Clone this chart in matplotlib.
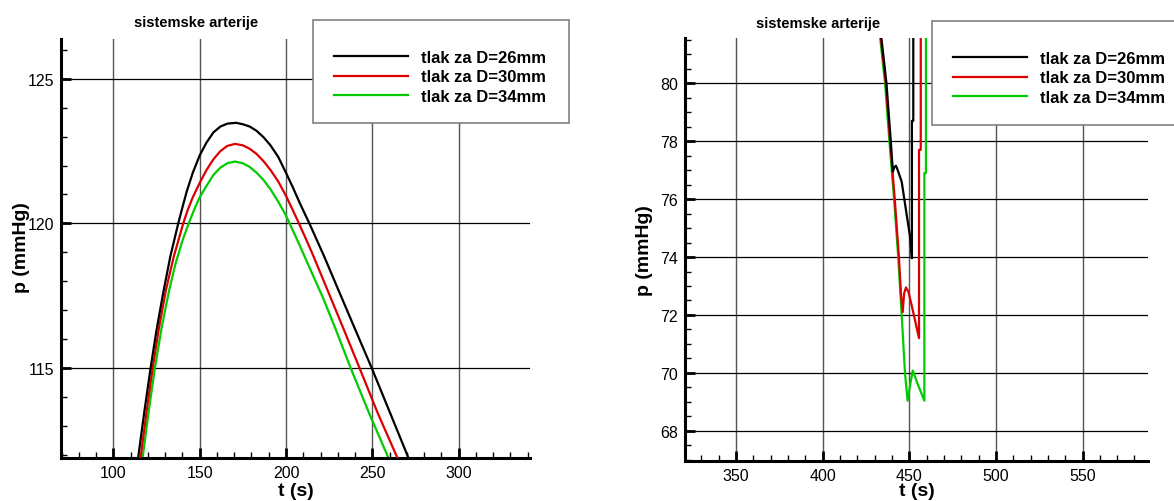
import matplotlib.pyplot as plt
from matplotlib.ticker import MultipleLocator
from matplotlib.patches import Rectangle

plt.rcParams['font.family'] = ['Liberation Sans', 'DejaVu Sans']

labels = ['tlak za D=26mm', 'tlak za D=30mm', 'tlak za D=34mm']
colors = ['black', '#dd0000', '#00cc00']
title = 'sistemske arterije'

# left panel (peak of the pressure curve)
t26_l = [114.4, 118.0, 121.6, 125.0, 128.9, 133.0, 137.6, 140.0, 142.5, 146.0, 150.0,
         154.0, 158.0, 162.0, 166.0, 171.0, 175.0, 179.0, 183.0, 187.0, 191.0, 195.5,
         200.0, 204.0, 208.0, 213.9, 222.0, 230.3, 240.0, 249.6, 260.0, 270.8]
p26_l = [111.9, 113.5, 115.0, 116.3, 117.6, 118.85, 120.0, 120.55, 121.1, 121.75, 122.35,
         122.8, 123.15, 123.35, 123.45, 123.48, 123.43, 123.35, 123.2, 122.98, 122.7, 122.3,
         121.75, 121.24, 120.7, 119.95, 118.87, 117.7, 116.34, 115.0, 113.48, 111.9]
t30_l = [115.8, 119.3, 122.8, 126.5, 130.5, 135.0, 140.5, 143.0, 146.0, 150.0, 154.0,
         158.0, 162.0, 166.0, 170.4, 175.0, 179.0, 183.0, 187.0, 191.0, 195.5, 200.0,
         204.0, 207.1, 212.0, 216.0, 226.4, 234.0, 242.2, 253.0, 264.4]
p30_l = [111.9, 113.5, 115.0, 116.4, 117.7, 118.85, 120.0, 120.45, 120.9, 121.4, 121.85,
         122.22, 122.5, 122.68, 122.75, 122.7, 122.58, 122.4, 122.15, 121.85, 121.45, 120.95,
         120.45, 120.05, 119.4, 118.85, 117.35, 116.25, 115.05, 113.45, 111.9]
t34_l = [117.0, 120.5, 124.1, 128.0, 132.4, 136.0, 140.0, 144.0, 147.0, 150.0, 154.0,
         158.0, 162.0, 166.0, 170.4, 175.0, 179.0, 183.0, 187.0, 191.0, 195.5, 200.0,
         204.0, 208.0, 211.0, 216.0, 221.6, 229.0, 237.4, 248.0, 259.2]
p34_l = [111.9, 113.5, 115.0, 116.4, 117.7, 118.6, 119.4, 120.05, 120.5, 120.9, 121.3,
         121.68, 121.93, 122.08, 122.14, 122.08, 121.95, 121.75, 121.5, 121.18, 120.75, 120.27,
         119.75, 119.23, 118.82, 118.15, 117.4, 116.3, 115.0, 113.45, 111.9]

# right panel (end of the cycle)
t26_r = [433.8, 436.8, 439.3, 440.5, 441.3, 442.3, 443.3, 445.6, 448.5, 450.3, 451.5,
         451.5, 452.3, 452.3]
p26_r = [81.6, 80.0, 78.0, 76.95, 77.1, 77.15, 77.0, 76.6, 75.45, 74.75, 73.96,
         78.7, 78.7, 83.0]
t30_r = [433.5, 436.4, 438.9, 441.6, 444.0, 445.2, 446.2, 447.0, 448.1, 449.5, 451.4,
         455.6, 455.6, 456.6, 456.6]
p30_r = [81.6, 80.0, 78.0, 76.0, 74.0, 72.7, 72.1, 72.75, 72.95, 72.8, 72.32,
         71.2, 77.7, 77.7, 83.0]
t34_r = [433.1, 436.0, 438.5, 441.2, 443.6, 445.6, 447.5, 449.0, 450.5, 452.0, 455.2,
         458.7, 458.7, 459.6, 459.6]
p34_r = [81.6, 80.0, 78.0, 76.0, 74.0, 72.0, 70.0, 69.04, 69.6, 70.08, 69.56,
         69.04, 76.9, 76.9, 83.0]

W, H = 1174, 502
fig = plt.figure(figsize=(W / 100, H / 100), dpi=100)
ax1 = fig.add_axes([61 / W, 1 - 459 / H, 469 / W, 419 / H])
ax2 = fig.add_axes([685 / W, 1 - 461.7 / H, 463 / W, 422.4 / H])


def style(ax, xmaj, ymaj, ymin):
    for s in ['top', 'right']:
        ax.spines[s].set_visible(False)
    for s in ['left', 'bottom']:
        ax.spines[s].set_linewidth(2.2)
    ax.xaxis.set_major_locator(MultipleLocator(xmaj))
    ax.xaxis.set_minor_locator(MultipleLocator(10))
    ax.yaxis.set_major_locator(MultipleLocator(ymaj))
    ax.yaxis.set_minor_locator(MultipleLocator(ymin))
    ax.tick_params(which='major', direction='in', length=7, width=2,
                   labelsize=11.5, pad=5)
    ax.tick_params(which='minor', direction='in', length=4, width=1)
    ax.grid(True, which='major', axis='y', color='black', lw=0.9)
    ax.grid(True, which='major', axis='x', color='#555555', lw=1.0)
    ax.set_axisbelow(True)
    ax.set_xlabel('t (s)', fontsize=14, fontweight='bold')
    ax.set_ylabel('p (mmHg)', fontsize=14, fontweight='bold')


def draw(ax, series):
    lines = []
    for (t, p), c in zip(series, colors):
        ln, = ax.plot(t, p, color=c, lw=1.6)
        lines.append(ln)
    # black on top
    for z, ln in enumerate(lines[::-1]):
        ln.set_zorder(2 + z)
    return lines


h1 = draw(ax1, [(t26_l, p26_l), (t30_l, p30_l), (t34_l, p34_l)])
ax1.set_xlim(69.7, 341.3)
ax1.set_ylim(111.88, 126.38)
style(ax1, 50, 5, 1)
ax1.xaxis.set_label_coords(0.501, -0.057)
ax1.yaxis.set_label_coords(-0.067, 0.504)

h2 = draw(ax2, [(t26_r, p26_r), (t30_r, p30_r), (t34_r, p34_r)])
ax2.set_xlim(320.5, 587.8)
ax2.set_ylim(66.97, 81.55)
style(ax2, 50, 2, 0.5)
ax2.xaxis.set_label_coords(0.501, -0.05)
ax2.yaxis.set_label_coords(-0.069, 0.5)

fig.text(196 / W, 1 - 23 / H, title, ha='center', va='center', fontsize=10.5, fontweight='bold')
fig.text(818 / W, 1 - 24 / H, title, ha='center', va='center', fontsize=10.5, fontweight='bold')

# legend boxes (partly outside the axes, as in the original)
for (x0, x1, y0, y1), hs, lx, ly in [((312.5, 569, 20.7, 124), h1, 334, 51),
                                      ((931.5, 1180, 21.7, 125.7), h2, 953, 52)]:
    fig.add_artist(Rectangle((x0 / W, 1 - y1 / H), (x1 - x0) / W, (y1 - y0) / H,
                             transform=fig.transFigure, facecolor='white',
                             edgecolor='#808080', lw=1.2, zorder=3))
    fig.legend(hs, labels, loc='upper left', bbox_to_anchor=(lx / W, 1 - ly / H),
               frameon=False, prop={'weight': 'bold', 'size': 12},
               handlelength=4.45, handletextpad=0.75, labelspacing=0.26,
               borderpad=0, borderaxespad=0)

fig.savefig('out.png', dpi=100)
